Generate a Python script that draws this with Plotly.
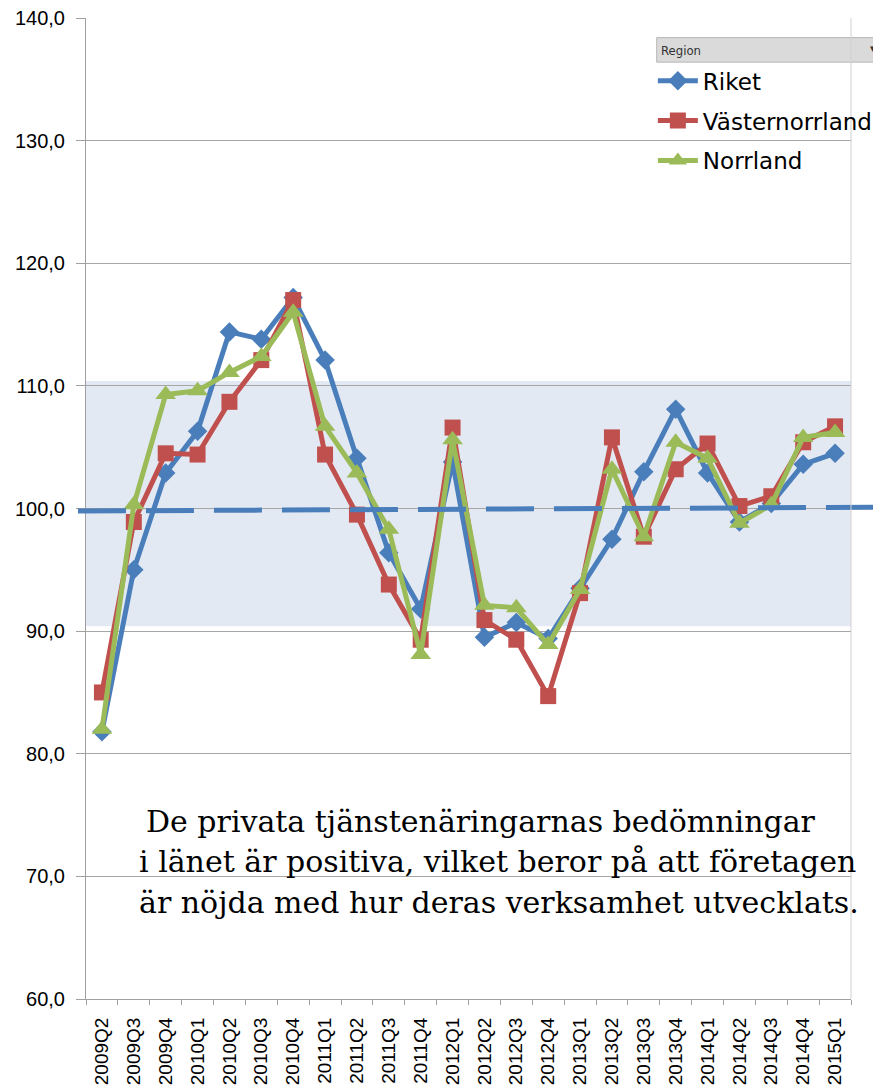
import plotly.graph_objects as go

QUARTERS = ['2009Q2', '2009Q3', '2009Q4',
            '2010Q1', '2010Q2', '2010Q3', '2010Q4',
            '2011Q1', '2011Q2', '2011Q3', '2011Q4',
            '2012Q1', '2012Q2', '2012Q3', '2012Q4',
            '2013Q1', '2013Q2', '2013Q3', '2013Q4',
            '2014Q1', '2014Q2', '2014Q3', '2014Q4',
            '2015Q1']

RIKET = [81.8, 95.0, 102.9, 106.3, 114.4, 113.8, 117.2, 112.1, 104.1, 96.4, 91.8, 103.8,
         89.5, 90.7, 89.4, 93.5, 97.5, 103.0, 108.1, 102.9, 98.9, 100.4, 103.6, 104.5]
VASTERNORRLAND = [85.0, 98.9, 104.5, 104.4, 108.7, 112.1, 117.0, 104.4, 99.5, 93.8, 89.3, 106.6,
                  90.9, 89.3, 84.7, 93.1, 105.8, 97.7, 103.2, 105.3, 100.2, 101.0, 105.4, 106.7]
NORRLAND = [82.0, 100.3, 109.3, 109.6, 111.1, 112.4, 116.0, 106.7, 102.9, 98.3, 88.1, 105.6,
            92.1, 91.9, 88.9, 93.4, 103.2, 97.7, 105.4, 104.1, 98.8, 100.3, 105.8, 106.2]

BAND = (90.4, 110.4)
NOTE = ['De privata tjänstenäringarnas bedömningar',
        'i länet är positiva, vilket beror på att företagen',
        'är nöjda med hur deras verksamhet utvecklats.']

SERIES = [
    ('Riket', RIKET, '#4A7EBB', 'diamond', 15),
    ('Västernorrland', VASTERNORRLAND, '#C0504D', 'square', 16),
    ('Norrland', NORRLAND, '#9BBB59', 'triangle-up', 18),
]

fig = go.Figure()
for name, vals, col, sym, size in SERIES:
    fig.add_trace(go.Scatter(
        x=QUARTERS, y=vals, name=name, mode='lines+markers', legendgroup=name,
        line={'color': col, 'width': 5},
        marker={'symbol': sym, 'size': size, 'color': col},
    ))

# shaded normal band and dashed reference line
fig.add_shape(type='rect', xref='paper', yref='y', x0=0, x1=1, y0=BAND[0], y1=BAND[1],
              fillcolor='#E3E9F3', line={'width': 0}, layer='below')
fig.add_shape(type='line', xref='paper', yref='y', x0=-0.0105, x1=1.04, y0=99.8, y1=100.1,
              line={'color': '#4A7EBB', 'width': 5, 'dash': '48px,20px'})

# legend header box
fig.add_shape(type='rect', xref='paper', yref='paper', x0=0.746, x1=1.039, y0=0.955, y1=0.980,
              fillcolor='#DADADA', line={'color': '#B8B8B8', 'width': 1})
fig.add_annotation(xref='paper', yref='paper', x=0.749, y=0.967, text='Region', showarrow=False,
                   xanchor='left', yanchor='middle', font={'family': 'DejaVu Sans Condensed', 'size': 13, 'color': '#333333'})
fig.add_annotation(xref='paper', yref='paper', x=1.035, y=0.969, text='▾', showarrow=False,
                   xanchor='right', yanchor='middle', font={'family': 'DejaVu Sans', 'size': 11, 'color': '#333333'})

for txt, xx, yy in zip(NOTE, [0.0758, 0.0666, 0.0666], [74.5, 71.2, 67.9]):
    fig.add_annotation(xref='paper', yref='y', x=xx, y=yy, text=txt, showarrow=False,
                       xanchor='left', yanchor='middle',
                       font={'family': 'DejaVu Serif', 'size': 30, 'color': 'black'})

# page body has an 8px margin, so the figure is shrunk by that much
fig.update_layout(
    width=873, height=1083, separators=', ',
    margin={'l': 78, 'r': 30, 't': 10, 'b': 92, 'autoexpand': False},
    plot_bgcolor='white', paper_bgcolor='white',
    legend=dict(x=0.741, y=0.958, xanchor='left', yanchor='top', bgcolor='rgba(0,0,0,0)',
                font={'family': 'DejaVu Sans', 'size': 23, 'color': 'black'},
                tracegroupgap=7, itemwidth=40),
    xaxis=dict(type='category', range=[-0.5, 23.5], automargin=False, showgrid=False,
               showline=True, linecolor='#A0A0A0', linewidth=1,
               ticks='outside', tickson='boundaries', ticklen=5, tickcolor='#A0A0A0', tickangle=-90,
               ticklabelstandoff=10, ticklabeloverflow='allow',
               tickfont={'family': 'Liberation Sans', 'size': 19, 'color': 'black'}),
    yaxis=dict(range=[60, 140], dtick=10, tickformat='.1f', automargin=False, showgrid=True,
               gridcolor='#A6A6A6', gridwidth=1,
               showline=True, linecolor='#A0A0A0', ticks='outside', ticklen=9, tickcolor='#A0A0A0',
               ticklabelstandoff=7, ticklabeloverflow='allow',
               tickfont={'family': 'Liberation Sans', 'size': 20, 'color': 'black'}, zeroline=False),
)
fig.add_shape(type='line', xref='paper', yref='paper', x0=1, x1=1, y0=0, y1=1,
              line={'color': '#D0D0D0', 'width': 1})

fig.write_html('out.html')
